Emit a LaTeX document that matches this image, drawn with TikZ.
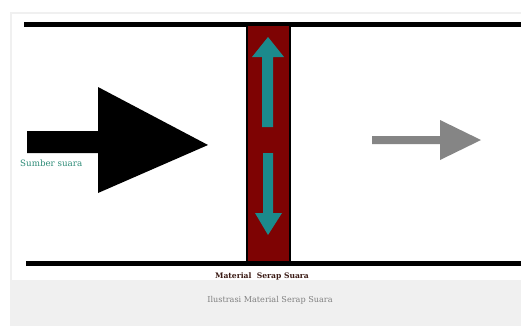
\documentclass[tikz,border=0pt]{standalone}
\usepackage{fontspec}
\setmainfont{DejaVu Serif}
\usepackage{tikz}
\definecolor{bar}{HTML}{7E0303}
\definecolor{tl}{HTML}{1B8A8C}
\definecolor{lab}{HTML}{2E8C78}
\definecolor{mat}{HTML}{3A1A14}

\begin{document}
\begin{tikzpicture}[x=1pt,y=-1pt,wl/.style={line width=5pt},
  t/.style={inner sep=0pt,anchor=base}]
\useasboundingbox (0,0) rectangle (521,327);
\fill[white] (0,0) rectangle (521,327);
\fill[black!6] (10,12) rectangle (521,326);
\fill[white] (12,14) rectangle (521,280);
% walls and absorber
\draw[wl] (24,24.5) -- (521,24.5);
\draw[wl] (26,263) -- (521,263);
\draw[fill=bar,line width=2.5pt] (247,25) rectangle (290,262);
% arrows
\fill (27,131) -- (98,131) -- (98,87) -- (208,145) -- (98,193) -- (98,153) -- (27,153) -- cycle;
\fill[black!48] (372,136) -- (440,136) -- (440,120) -- (481,140) -- (440,160) -- (440,144) -- (372,144) -- cycle;
\fill[tl] (268,37) -- (284,57) -- (273,57) -- (273,127) -- (262,127) -- (262,57) -- (252,57) -- cycle;
\fill[tl] (263,153) -- (273,153) -- (273,213) -- (282,213) -- (268,235) -- (255,213) -- (263,213) -- cycle;
% labels
\node[t,text=lab,anchor=base west,font=\fontsize{8.7}{9}\selectfont] (src) at (20,166) {Sumber suara};
\node[t,text=mat,font=\fontsize{7.6}{8}\selectfont\bfseries] (mat) at (262,278) {Material\ \ Serap Suara};
\node[t,text=black!50,font=\fontsize{8.1}{9}\selectfont] (cap) at (270,302) {Ilustrasi Material Serap Suara};
\end{tikzpicture}
\end{document}
